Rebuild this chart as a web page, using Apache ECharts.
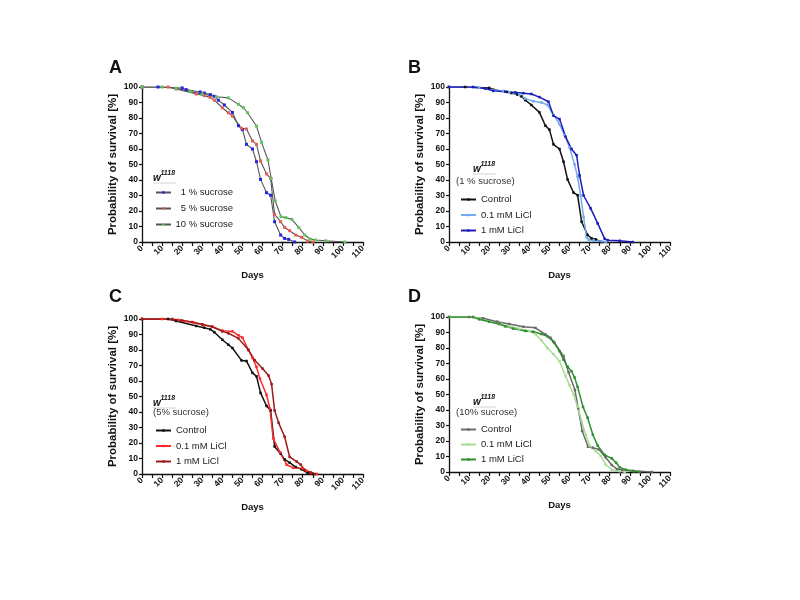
<!DOCTYPE html>
<html>
<head>
<meta charset="utf-8">
<script src="https://cdn.jsdelivr.net/npm/echarts@6/dist/echarts.min.js"></script>
<style>
  html, body { margin: 0; padding: 0; background: #fff; }
  #chart { width: 800px; height: 600px; }
</style>
</head>
<body>
<div id="chart"></div>
<script>
// survival curves, [day, % alive]
const ctrl1 = [[0, 100], [8, 100], [20, 99.4], [22, 98.3], [29, 96.8], [31, 96.1], [34, 95.1], [36, 94], [38, 91.5], [41, 88.4], [45, 83.6], [48, 75], [50, 72.5], [52, 63], [55, 60], [57, 51.8], [59, 40.4], [62, 31.8], [64, 30.2], [66, 13.1], [69, 4.5], [71, 2.3], [73, 1.7], [76, 0]]
const ctrl5 = [[0, 100], [13, 100], [17, 98.7], [27, 95.5], [31, 94.4], [34, 93.3], [36, 91.5], [40, 86.6], [43, 83.4], [45, 81.3], [49.5, 73.3], [52, 72.9], [55, 65.2], [57, 63], [59, 52.3], [62, 43.9], [64, 41.1], [66, 17.8], [69, 13.1], [71, 9.4], [73.5, 7.3], [76.5, 4.5], [79.5, 3], [82.5, 0.6], [85, 0]]
const ctrl10 = [[0, 100], [10, 100], [17, 99.2], [24, 97], [30, 95.5], [37, 93.7], [43, 93], [48, 88.8], [50.5, 86.6], [52.5, 83.4], [57, 74.8], [59.5, 64.3], [62.7, 52.9], [64.3, 41], [66.3, 26.5], [69.2, 16.3], [71.6, 15.7], [74.6, 14.6], [78, 9.4], [81, 4.5], [83.7, 1.9], [86.2, 1.3], [91.5, 0.8], [101, 0]]
const licl01Suc1 = [[0, 100], [15, 99.6], [22, 98], [27, 97.5], [30, 96.5], [35, 95], [38, 92.5], [42, 90.8], [46, 90], [49, 88.5], [52, 82], [55, 76], [57.5, 69], [60, 61], [62.5, 50], [64, 42], [65.5, 30], [67, 16], [68.5, 3], [69.5, 1.5], [72, 1], [76, 0.5], [78, 0]]
const licl1Suc1 = [[0, 100], [12, 100], [18, 99], [22, 97.5], [28, 97], [33, 96.5], [37, 96], [41, 95.5], [45, 93.5], [49.5, 90.5], [52, 81.5], [55, 79.3], [58, 68], [61, 60], [63.5, 56], [65, 43], [67, 30], [70.5, 21.7], [74, 12], [77.5, 2], [79, 1.2], [85, 0.8], [91.5, 0]]
const licl01Suc5 = [[0, 100], [10, 100], [18, 99.4], [22, 98.5], [26, 97.5], [30, 96.5], [35, 95], [40, 92.5], [45, 92], [48, 89.5], [50, 88], [53, 80], [55, 75], [57, 69], [58.7, 61.5], [62, 51], [63.7, 42], [65.3, 23], [68.7, 14], [72, 6], [75.3, 4], [80, 3.5], [82, 2], [84, 0.6], [87, 0]]
const licl1Suc5 = [[0, 100], [15, 100], [20, 99], [25, 98], [30, 96.5], [35, 95], [40, 92], [43, 90.8], [48, 87.5], [53, 80], [56, 73.5], [60, 68], [63, 63.5], [64.5, 58], [66, 41], [68, 33], [71, 24], [73.5, 11], [77, 8], [79, 6], [81, 2.6], [84, 1], [86, 0]]
const licl01Suc10 = [[0, 100], [12, 100], [15, 99], [20, 97], [25, 95.5], [30, 94], [35, 92.5], [40, 91], [43, 89], [46, 85], [49, 80], [52, 76], [55, 71.5], [58, 62], [60, 56], [62, 50], [64, 42], [66, 33], [68, 24], [70, 17], [73, 13.5], [75.5, 10.5], [78, 4.8], [81, 1.6], [85, 0.5], [87.5, 0]]
const licl1Suc10 = [[0, 100], [12, 100], [15, 98.5], [20, 97], [25, 95.5], [28, 94], [32, 92.5], [38, 91], [42, 90.5], [46, 89], [49, 87.5], [52, 84], [55, 78], [57, 72.5], [59, 68], [61, 65], [62.5, 61], [64, 55], [66.7, 42], [69, 35], [71.6, 24], [74, 17], [77.5, 11], [81, 8.8], [83.2, 6], [85, 3], [88, 1.5], [92, 0.5], [95, 0]]

const panelLetters = ['A', 'B', 'C', 'D']
const subTitles = ['', '(1 % sucrose)', '(5% sucrose)', '(10% sucrose)']
const namesA = ['1 % sucrose', '5 % sucrose', '10 % sucrose']
const namesLiCl = ['Control', '0.1 mM LiCl', '1 mM LiCl']

const FONT = 'Liberation Sans, Arial, Helvetica, sans-serif'
const grids = [
  {left: 142, top: 87, width: 221, height: 155},
  {left: 449, top: 87, width: 221, height: 155},
  {left: 142, top: 319, width: 221, height: 155},
  {left: 449, top: 317, width: 221, height: 155}
]

function xAx (i) {
  return {
    type: 'value', gridIndex: i, min: 0, max: 110, interval: 10,
    name: 'Days', nameLocation: 'middle', nameGap: 28,
    nameTextStyle: {fontFamily: FONT, fontWeight: 'bold', fontSize: 9.5, color: '#111'},
    axisLine: {lineStyle: {color: '#111', width: 1.3}},
    axisTick: {length: 4, lineStyle: {color: '#111', width: 1.2}},
    minorTick: {show: true, splitNumber: 2, length: 4, lineStyle: {color: '#111', width: 1.2}},
    axisLabel: {fontFamily: FONT, fontWeight: 'bold', fontSize: 8.5, color: '#111', rotate: 45, margin: 5},
    splitLine: {show: false}
  }
}
function yAx (i) {
  return {
    type: 'value', gridIndex: i, min: 0, max: 100, interval: 10,
    name: 'Probability of survival [%]', nameLocation: 'middle', nameGap: 23,
    nameTextStyle: {fontFamily: FONT, fontWeight: 'bold', fontSize: 11.5, color: '#111'},
    axisLine: {show: true, lineStyle: {color: '#111', width: 1.3}},
    axisTick: {show: true, length: 3, lineStyle: {color: '#111', width: 1.2}},
    axisLabel: {fontFamily: FONT, fontWeight: 'bold', fontSize: 8.5, color: '#111', margin: 4},
    splitLine: {show: false}
  }
}
function line (panel, name, data, i, lineColor, markColor, size, width) {
  return {
    name: panel + '|' + name, type: 'line', xAxisIndex: i, yAxisIndex: i, data: data,
    symbol: 'rect', symbolSize: size, showSymbol: true,
    lineStyle: {color: lineColor, width: width},
    itemStyle: {color: markColor},
    animation: false
  }
}

const series = [
  line('A', namesA[0], ctrl1, 0, '#555', '#2323e0', 3, 1.1),
  line('A', namesA[1], ctrl5, 0, '#555', '#ea5a50', 3, 1.1),
  line('A', namesA[2], ctrl10, 0, '#555', '#5cc45c', 3, 1.1),
  line('B', namesLiCl[0], ctrl1, 1, '#111', '#111', 2.5, 1.5),
  line('B', namesLiCl[1], licl01Suc1, 1, '#74aaee', '#74aaee', 2.5, 1.5),
  line('B', namesLiCl[2], licl1Suc1, 1, '#1c1cb8', '#1c1cb8', 2.5, 1.5),
  line('C', namesLiCl[0], ctrl5, 2, '#111', '#111', 2.5, 1.5),
  line('C', namesLiCl[1], licl01Suc5, 2, '#ff2a2a', '#ff2a2a', 2.5, 1.5),
  line('C', namesLiCl[2], licl1Suc5, 2, '#9a1c1c', '#9a1c1c', 2.5, 1.5),
  line('D', namesLiCl[0], ctrl10, 3, '#6a6a6a', '#6a6a6a', 2.5, 1.5),
  line('D', namesLiCl[1], licl01Suc10, 3, '#a9dc98', '#a9dc98', 2.5, 1.5),
  line('D', namesLiCl[2], licl1Suc10, 3, '#2f8f2f', '#2f8f2f', 2.5, 1.5)
]

function leg (panel, names, left, top, gap, rightAlign) {
  return {
    orient: 'vertical', left: left, top: top, itemGap: gap,
    itemWidth: 15, itemHeight: 3, selectedMode: false,
    data: names.map(n => panel + '|' + n),
    formatter: n => rightAlign ? '{r|' + n.split('|')[1] + '}' : n.split('|')[1],
    textStyle: {
      fontFamily: FONT, fontSize: 9.5, color: '#222',
      rich: {r: {width: 57, align: 'right', fontFamily: FONT, fontSize: 9.5, color: '#222'}}
    }
  }
}

// w1118 headers above each legend
const heads = [
  {x: 153, y: 178, sub: 0},
  {x: 473, y: 169, sub: 181},
  {x: 153, y: 403, sub: 412},
  {x: 473, y: 402, sub: 412}
]
const subX = [0, 456, 153, 456]
const graphic = []
panelLetters.forEach((l, i) => {
  graphic.push({type: 'text', x: i % 2 ? 408 : 109, y: i < 2 ? 68 : 297,
    style: {text: l, fontFamily: FONT, fontSize: 18, fontWeight: 'bold', fill: '#111', verticalAlign: 'middle'}})
  const h = heads[i]
  graphic.push({type: 'text', x: h.x, y: h.y,
    style: {text: 'w', fontFamily: FONT, fontSize: 10, fontWeight: 'bold', fontStyle: 'italic', fill: '#111', verticalAlign: 'middle'}})
  graphic.push({type: 'text', x: h.x + 7.5, y: h.y - 4.5,
    style: {text: '1118', fontFamily: FONT, fontSize: 7, fontWeight: 'bold', fontStyle: 'italic', fill: '#111', verticalAlign: 'middle'}})
  graphic.push({type: 'line', shape: {x1: h.x, y1: h.y + 5, x2: h.x + 23, y2: h.y + 5},
    style: {stroke: '#c8c8c8', lineWidth: 0.8}})
  if (subTitles[i]) {
    graphic.push({type: 'text', x: subX[i], y: h.sub,
      style: {text: subTitles[i], fontFamily: FONT, fontSize: 9.5, fill: '#333', verticalAlign: 'middle'}})
  }
})

const chart = echarts.init(document.getElementById('chart'), null, {renderer: 'canvas'})
chart.setOption({
  backgroundColor: '#fff',
  animation: false,
  grid: grids,
  xAxis: [0, 1, 2, 3].map(xAx),
  yAxis: [0, 1, 2, 3].map(yAx),
  legend: [
    leg('A', namesA, 150, 182.5, 6, true),
    leg('B', namesLiCl, 455, 189.5, 5.5, false),
    leg('C', namesLiCl, 150, 420.5, 5.5, false),
    leg('D', namesLiCl, 455, 419.5, 5, false)
  ],
  graphic: graphic,
  series: series
})
</script>
</body>
</html>
